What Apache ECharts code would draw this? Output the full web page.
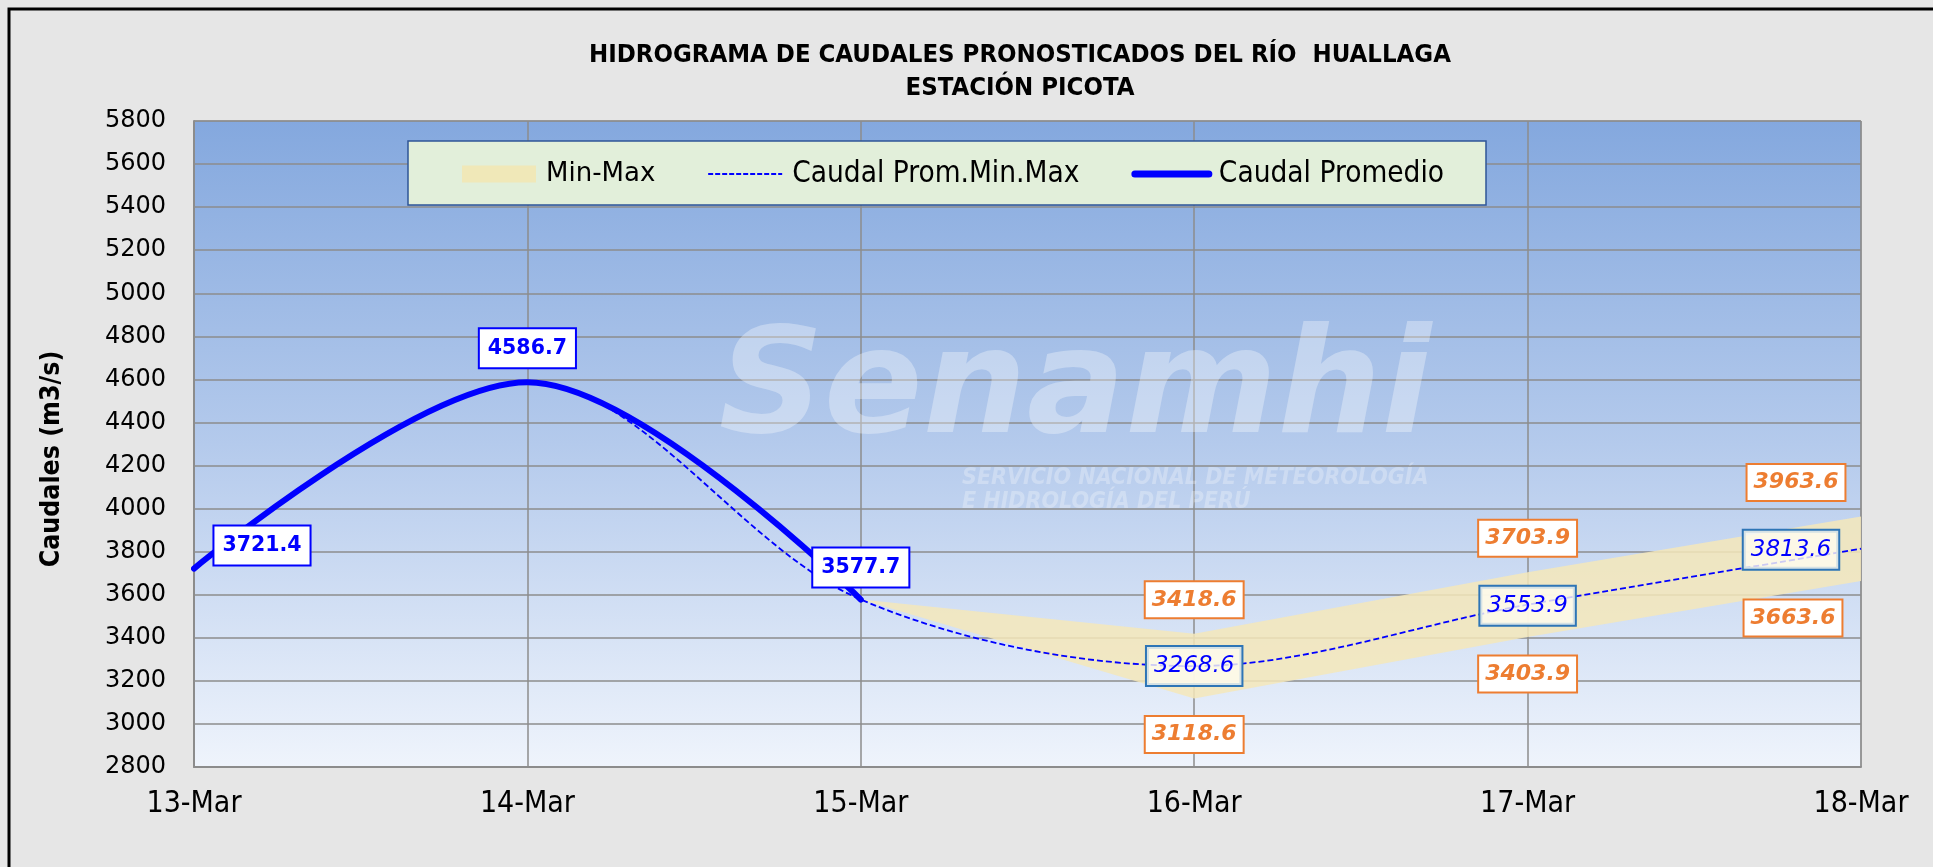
<!DOCTYPE html>
<html>
<head>
<meta charset="utf-8">
<script src="https://cdn.jsdelivr.net/npm/echarts@6/dist/echarts.min.js"></script>
<style>
html,body{margin:0;padding:0;background:#E6E6E6;}
#chart{width:1933px;height:867px;}
</style>
</head>
<body>
<div id="chart"></div>
<script>
// ---- data ----
const categories = ['13-Mar', '14-Mar', '15-Mar', '16-Mar', '17-Mar', '18-Mar'];
const caudalPromedio = [3721.4, 4586.7, 3577.7, null, null, null];
const caudalPromMinMax = [3721.4, 4586.7, 3577.7, 3268.6, 3553.9, 3813.6];
const caudalMin = [null, null, 3577.7, 3118.6, 3403.9, 3663.6];
const caudalMax = [null, null, 3577.7, 3418.6, 3703.9, 3963.6];
const yTicks = { min: 2800, max: 5800, step: 200 };

// ---- label placement (style, not data) ----
const promLabelIdx = [0, 1, 2];
const promLabelOff = { 0: [68, -23], 1: [0, -34], 2: [0, -32] };
const pmmLabelIdx = [3, 4, 5];
const pmmLabelOff = { 3: [0, 0], 4: [0, 1], 5: [-70, 1] };
const bandLabelIdx = [3, 4, 5];
const maxLabelOff = { 3: [0, -34], 4: [0, -34], 5: [-65, -34] };
const minLabelOff = { 3: [0, 36], 4: [0, 37], 5: [-68, 37] };

const FONT_C = "'Liberation Sans Narrow', 'DejaVu Sans Condensed', sans-serif";
const FONT_V = "'DejaVu Sans', Verdana, sans-serif";

function items(values, showIdx, offsets) {
  return values.map((v, i) => {
    if (v == null) return '-';
    const show = showIdx.indexOf(i) > -1;
    return { value: v, label: { show: show, offset: show ? (offsets[i] || [0, 0]) : [0, 0] } };
  });
}

const diffBand = caudalMax.map((v, i) => (v == null || caudalMin[i] == null) ? null : +(v - caudalMin[i]).toFixed(1));

const chart = echarts.init(document.getElementById('chart'), null, { renderer: 'canvas' });

const option = {
  backgroundColor: '#E6E6E6',
  animation: false,
  title: {
    text: 'HIDROGRAMA DE CAUDALES PRONOSTICADOS DEL RÍO  HUALLAGA\nESTACIÓN PICOTA',
    left: 1015,
    top: 34,
    textAlign: 'center',
    textStyle: { fontFamily: FONT_C, fontWeight: 'bold', fontSize: 25.5, lineHeight: 33, color: '#000' }
  },
  graphic: [
    { type: 'rect', z: -10, silent: true, shape: { x: 9, y: 9, width: 2000, height: 1000 },
      style: { fill: 'none', stroke: '#000', lineWidth: 3 } },
    { type: 'text', z: 1, silent: true, style: { x: 1075, y: 394, text: 'Senamhi', fill: 'rgba(255,255,255,0.33)',
      font: 'italic bold 146px "DejaVu Sans"', textAlign: 'center', textVerticalAlign: 'middle' } },
    { type: 'text', z: 1, silent: true, style: { x: 962, y: 478, text: 'SERVICIO NACIONAL DE METEOROLOGÍA', fill: 'rgba(255,255,255,0.28)',
      font: 'italic bold 23px "DejaVu Sans Condensed"', textAlign: 'left', textVerticalAlign: 'middle' } },
    { type: 'text', z: 1, silent: true, style: { x: 962, y: 502, text: 'E HIDROLOGÍA DEL PERÚ', fill: 'rgba(255,255,255,0.28)',
      font: 'italic bold 23px "DejaVu Sans Condensed"', textAlign: 'left', textVerticalAlign: 'middle' } },
    { type: 'rect', z: 3, silent: true, shape: { x: 408, y: 141, width: 1078, height: 64 },
      style: { fill: '#E2EFDA', stroke: '#2F5597', lineWidth: 1.5 } }
  ],
  legend: {
    left: 462,
    top: 159,
    padding: 0,
    itemWidth: 74,
    itemHeight: 17,
    itemGap: 52,
    z: 5,
    textStyle: { fontFamily: FONT_C, fontSize: 29.5, color: '#000', padding: [0, 0, 0, 5] },
    data: [
      { name: 'Min-Max', icon: 'rect', itemStyle: { color: '#F0E8B8' },
        textStyle: { fontFamily: FONT_V, fontSize: 26 } },
      { name: 'Caudal Prom.Min.Max', itemStyle: { opacity: 0 }, lineStyle: { width: 1.8, type: [5, 2] } },
      { name: 'Caudal Promedio', itemStyle: { opacity: 0 }, lineStyle: { width: 7, cap: 'round' } }
    ]
  },
  grid: {
    left: 194, right: 72, top: 121, bottom: 100,
    show: true,
    borderColor: '#8C8C8C', borderWidth: 1,
    backgroundColor: {
      type: 'linear', x: 0, y: 0, x2: 0, y2: 1,
      colorStops: [
        { offset: 0, color: '#84A8DE' },
        { offset: 0.5, color: '#B4CAEC' },
        { offset: 1, color: '#EFF4FC' }
      ]
    }
  },
  xAxis: {
    type: 'category',
    data: categories,
    boundaryGap: false,
    axisLine: { lineStyle: { color: '#8C8C8C', width: 2 } },
    axisTick: { show: false },
    axisLabel: { fontFamily: FONT_C, fontSize: 30, color: '#000', margin: 22 },
    splitLine: { show: true, lineStyle: { color: '#8C8C8C', width: 1.5 } }
  },
  yAxis: {
    type: 'value',
    min: yTicks.min, max: yTicks.max, interval: yTicks.step,
    name: 'Caudales (m3/s)',
    nameLocation: 'middle',
    nameGap: 128,
    nameRotate: 90,
    nameTextStyle: { fontFamily: FONT_C, fontWeight: 'bold', fontSize: 26.5, color: '#000', padding: [0, 30, 0, 0] },
    axisLine: { show: true, lineStyle: { color: '#8C8C8C', width: 2 } },
    axisTick: { show: false },
    axisLabel: { fontFamily: FONT_V, fontSize: 24, color: '#000', margin: 28, formatter: v => String(v) },
    splitLine: { show: true, lineStyle: { color: '#8C8C8C', width: 1.5 } }
  },
  series: [
    {
      name: 'MinBase', type: 'line', stack: 'band', z: 2,
      data: items(caudalMin, bandLabelIdx, minLabelOff),
      symbol: 'circle', symbolSize: 0.1,
      lineStyle: { width: 0, opacity: 0 },
      itemStyle: { color: 'rgba(0,0,0,0)' },
      label: {
        position: 'inside', fontFamily: FONT_V, fontSize: 22, fontWeight: 'bold', fontStyle: 'italic',
        color: '#ED7D31', backgroundColor: '#FFFFFF', borderColor: '#ED7D31', borderWidth: 2,
        padding: [7, 6, 6, 6], formatter: p => caudalMin[p.dataIndex].toFixed(1)
      }
    },
    {
      name: 'Min-Max', type: 'line', stack: 'band', z: 2,
      data: items(diffBand, bandLabelIdx, maxLabelOff),
      symbol: 'circle', symbolSize: 0.1,
      lineStyle: { width: 0, opacity: 0 },
      itemStyle: { color: '#F0E8B8' },
      areaStyle: { color: 'rgba(244,232,186,0.85)', opacity: 1 },
      label: {
        position: 'inside', fontFamily: FONT_V, fontSize: 22, fontWeight: 'bold', fontStyle: 'italic',
        color: '#ED7D31', backgroundColor: '#FFFFFF', borderColor: '#ED7D31', borderWidth: 2,
        padding: [7, 6, 6, 6], formatter: p => caudalMax[p.dataIndex].toFixed(1)
      }
    },
    {
      name: 'Caudal Prom.Min.Max', type: 'line', z: 3,
      data: items(caudalPromMinMax, pmmLabelIdx, pmmLabelOff),
      smooth: 0.33,
      symbol: 'circle', symbolSize: 0.1,
      itemStyle: { color: '#0000FF' },
      lineStyle: { color: '#0000FF', width: 1.8, type: [6, 3] },
      label: {
        position: 'inside', fontFamily: FONT_V, fontSize: 23, fontStyle: 'italic',
        color: '#0000FF', backgroundColor: 'rgba(255,253,240,0.8)', borderColor: '#2E75B6', borderWidth: 2,
        padding: [8, 7, 7, 7], formatter: p => p.value.toFixed(1)
      }
    },
    {
      name: 'Caudal Promedio', type: 'line', z: 4,
      data: items(caudalPromedio, promLabelIdx, promLabelOff),
      smooth: 0.33,
      symbol: 'circle', symbolSize: 0.1,
      itemStyle: { color: '#0000FF' },
      lineStyle: { color: '#0000FF', width: 6, cap: 'round' },
      label: {
        position: 'inside', fontFamily: FONT_V, fontSize: 20.5, fontWeight: 'bold',
        color: '#0000FF', backgroundColor: '#FFFFFF', borderColor: '#0000FF', borderWidth: 2,
        padding: [9, 8, 8, 8], formatter: p => p.value.toFixed(1)
      }
    }
  ]
};
chart.setOption(option);
</script>
</body>
</html>
